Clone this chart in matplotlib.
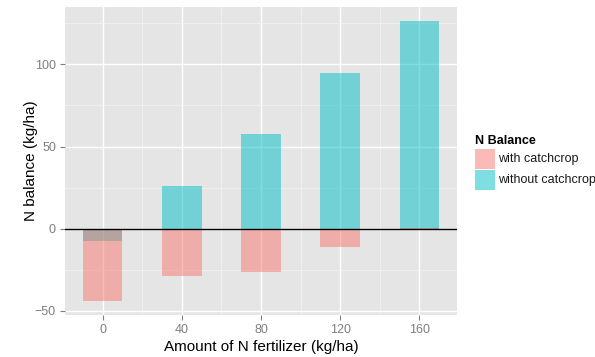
import matplotlib
matplotlib.use("Agg")
import matplotlib.pyplot as plt
from matplotlib.patches import Rectangle

fert = [0, 40, 80, 120, 160]
without_cc = [-7.7, 25.7, 57.5, 94.6, 126.4]
with_cc = [-43.9, -29.0, -26.3, -11.4, 0.5]
series_names = ["with catchcrop", "without catchcrop"]
legend_title = "N Balance"
xlabel = "Amount of N fertilizer (kg/ha)"
ylabel = "N balance (kg/ha)"

plt.rcParams['font.family'] = ['Liberation Sans', 'DejaVu Sans']

W, H = 595, 357
fig = plt.figure(figsize=(W/100, H/100), dpi=100)
L, R, T, B = 65, 457, 7, 315
ax = fig.add_axes([L/W, 1-B/H, (R-L)/W, (B-T)/H])
ax.set_facecolor('#E5E5E5')
for s in ax.spines.values():
    s.set_visible(False)

red = '#F8766D'
teal = '#00BFC4'
bw = 20
ax.bar(fert, without_cc, width=bw, color=teal, alpha=0.5, zorder=3, linewidth=0)
ax.bar(fert, with_cc, width=bw, color=red, alpha=0.5, zorder=4, linewidth=0)
ax.axhline(0, color='black', lw=1.0, zorder=5)

ax.set_xlim(-19, 179)
ax.set_ylim(-52.5, 134.9)
ax.set_xticks(fert)
ax.set_xticks([20, 60, 100, 140], minor=True)
ax.set_yticks([-50, 0, 50, 100])
ax.set_yticks([-25, 25, 75, 125], minor=True)
ax.grid(which='major', color='white', lw=1.0, zorder=0)
ax.grid(which='minor', color='#F2F2F2', lw=0.6, zorder=0)
ax.set_axisbelow(True)
ax.tick_params(which='major', length=3.5, color='#7F7F7F', labelcolor='#7F7F7F', labelsize=9, width=0.8, pad=3)
ax.tick_params(which='minor', length=0)
ax.set_xlabel(xlabel, fontsize=11, labelpad=3)
ax.set_ylabel(ylabel, fontsize=11, labelpad=-2)

# legend
fig.text(475/W, 1-141/H, legend_title, fontsize=9, fontweight='bold', va='center', ha='left')
for i, (name, col) in enumerate(zip(series_names, [red, teal])):
    y0 = 149 + i*20.5
    fig.patches.append(Rectangle((475/W, 1-(y0+20)/H), 20/W, 20/H, transform=fig.transFigure,
                                 facecolor=col, alpha=0.5, edgecolor='none'))
    fig.text(498/W, 1-(y0+10)/H, name, fontsize=9, va='center', ha='left', color='#1A1A1A')

fig.savefig('out.png', dpi=100)
